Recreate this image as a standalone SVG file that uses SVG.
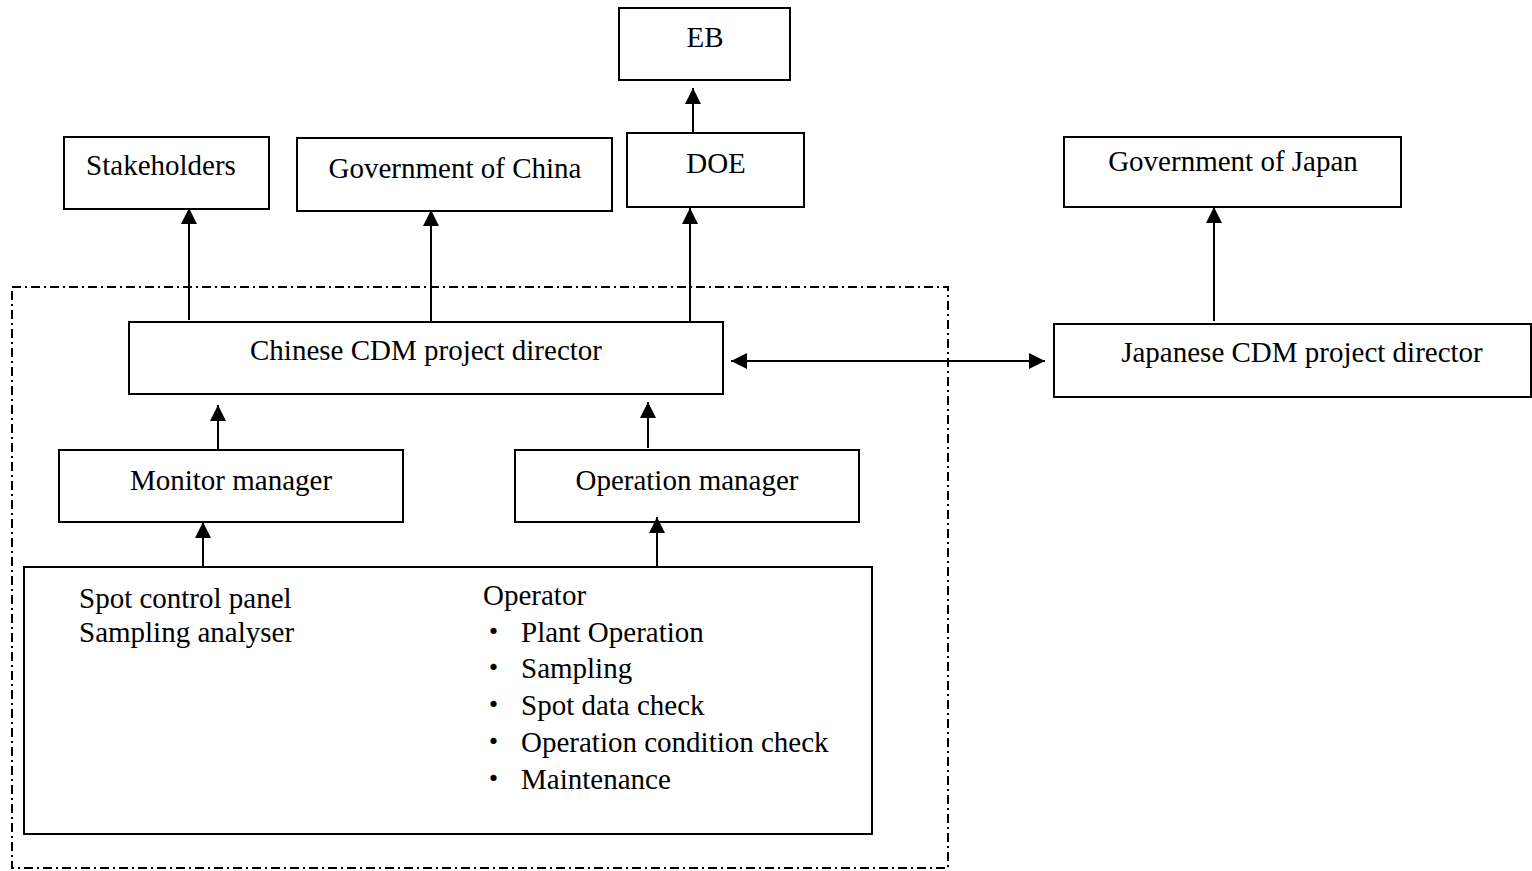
<svg xmlns="http://www.w3.org/2000/svg" width="1532" height="871" viewBox="0 0 1532 871">
<defs>
<style>
.box{fill:#fff;stroke:#000;stroke-width:2}
.t{font-family:"Liberation Serif","Times New Roman",serif;font-size:29px;fill:#000}
.c{text-anchor:middle}
.ln{stroke:#000;stroke-width:2;fill:none}
.dd{fill:none;stroke:#000;stroke-width:2;stroke-dasharray:9 4 2 4}
.b{font-family:"Liberation Serif","Noto Sans CJK JP",serif;font-size:29px;fill:#000}
</style>
<marker id="ah" markerUnits="userSpaceOnUse" markerWidth="16" markerHeight="16" viewBox="0 0 16 16" refX="16" refY="8" orient="auto-start-reverse">
<path d="M0,0 L16,8 L0,16 Z" fill="#000"/>
</marker>
</defs>
<rect x="0" y="0" width="1532" height="871" fill="#fff"/>
<rect id="boundary" class="dd" x="12" y="287" width="936" height="581"/>
<g id="eb"><rect class="box" x="619" y="8" width="171" height="72"/><text class="t c" x="705" y="47">EB</text></g>
<g id="doe"><rect class="box" x="627" y="133" width="177" height="74"/><text class="t c" x="716" y="173">DOE</text></g>
<g id="stakeholders"><rect class="box" x="64" y="137" width="205" height="72"/><text class="t c" x="161" y="175">Stakeholders</text></g>
<g id="gov-china"><rect class="box" x="297" y="138" width="315" height="73"/><text class="t c" x="455" y="178">Government of China</text></g>
<g id="gov-japan"><rect class="box" x="1064" y="137" width="337" height="70"/><text class="t c" x="1233" y="171">Government of Japan</text></g>
<g id="chinese-director"><rect class="box" x="129" y="322" width="594" height="72"/><text class="t c" x="426" y="360">Chinese CDM project director</text></g>
<g id="japanese-director"><rect class="box" x="1054" y="324" width="477" height="73"/><text class="t c" x="1302" y="362">Japanese CDM project director</text></g>
<g id="monitor-manager"><rect class="box" x="59" y="450" width="344" height="72"/><text class="t c" x="231" y="490">Monitor manager</text></g>
<g id="operation-manager"><rect class="box" x="515" y="450" width="344" height="72"/><text class="t c" x="687" y="490">Operation manager</text></g>
<g id="operators">
<rect class="box" x="24" y="567" width="848" height="267"/>
<text class="t" x="79" y="608">Spot control panel</text>
<text class="t" x="79" y="642">Sampling analyser</text>
<text class="t" x="483" y="605">Operator</text>
<text class="b" x="479" y="642">・</text><text class="t" x="521" y="642">Plant Operation</text>
<text class="b" x="479" y="678">・</text><text class="t" x="521" y="678">Sampling</text>
<text class="b" x="479" y="715">・</text><text class="t" x="521" y="715">Spot data check</text>
<text class="b" x="479" y="752">・</text><text class="t" x="521" y="752">Operation condition check</text>
<text class="b" x="479" y="789">・</text><text class="t" x="521" y="789">Maintenance</text>
</g>
<g id="connectors">
<line class="ln" x1="693" y1="133" x2="693" y2="88" marker-end="url(#ah)"/>
<line class="ln" x1="189" y1="320" x2="189" y2="208" marker-end="url(#ah)"/>
<line class="ln" x1="431" y1="323" x2="431" y2="210" marker-end="url(#ah)"/>
<line class="ln" x1="690" y1="322" x2="690" y2="208" marker-end="url(#ah)"/>
<line class="ln" x1="1214" y1="321" x2="1214" y2="207" marker-end="url(#ah)"/>
<line class="ln" x1="731" y1="361" x2="1045" y2="361" marker-start="url(#ah)" marker-end="url(#ah)"/>
<line class="ln" x1="218" y1="450" x2="218" y2="405" marker-end="url(#ah)"/>
<line class="ln" x1="648" y1="448" x2="648" y2="402" marker-end="url(#ah)"/>
<line class="ln" x1="203" y1="567" x2="203" y2="522" marker-end="url(#ah)"/>
<line class="ln" x1="657" y1="567" x2="657" y2="517" marker-end="url(#ah)"/>
</g>
</svg>
